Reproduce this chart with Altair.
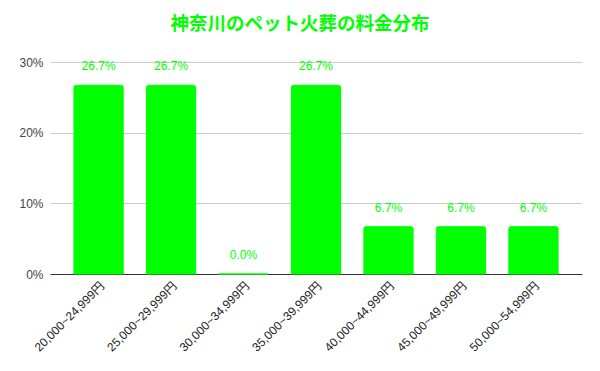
import altair as alt
import pandas as pd

categories = ["20,000~24,999円", "25,000~29,999円", "30,000~34,999円",
              "35,000~39,999円", "40,000~44,999円", "45,000~49,999円",
              "50,000~54,999円"]
values = [0.267, 0.267, 0.0, 0.267, 0.067, 0.067, 0.067]
labels = ["26.7%", "26.7%", "0.0%", "26.7%", "6.7%", "6.7%", "6.7%"]
y_ticks = [0, 0.1, 0.2, 0.3]

df = pd.DataFrame({"cat": categories, "val": values, "lab": labels})

GREEN = "#00ff00"
x_enc = alt.X("cat:N", sort=categories, title=None,
              scale=alt.Scale(paddingInner=0.32, paddingOuter=0.33),
              axis=alt.Axis(labelAngle=-45, labelAlign="right", labelBaseline="top",
                            labelFontSize=12, labelColor="#222222",
                            labelFont="Liberation Sans, Noto Sans CJK JP",
                            ticks=False, domainColor="#333333", labelPadding=6,
                            grid=False))
y_enc = alt.Y("val:Q", title=None,
              scale=alt.Scale(domain=[0, 0.3]),
              axis=alt.Axis(values=y_ticks, format=".0%", labelFontSize=12,
                            labelColor="#444444", labelFont="Liberation Sans",
                            ticks=False, domain=False, gridColor="#cccccc",
                            labelPadding=7))

base = alt.Chart(df)
bars = base.mark_bar(color=GREEN, stroke=GREEN, strokeWidth=1,
                     cornerRadiusTopLeft=2,
                     cornerRadiusTopRight=2).encode(x=x_enc, y=y_enc)
text = base.mark_text(color=GREEN, fontSize=12, dy=-15, baseline="alphabetic",
                      font="Liberation Sans").encode(
    x=alt.X("cat:N", sort=categories), y="val:Q", text="lab:N")

chart = alt.layer(bars, text).properties(
    width=532, height=212,
    title=alt.TitleParams("神奈川のペット火葬の料金分布", color=GREEN, fontSize=18.5,
                          fontWeight="bold", font="Noto Sans CJK JP",
                          anchor="middle", dx=-16, offset=23),
    autosize=alt.AutoSizeParams(type="none"),
    padding={"left": 42, "top": 54, "right": 10, "bottom": 90},
).configure_view(stroke=None)

chart.save("out.html", embed_options={"renderer": "svg", "actions": False})
